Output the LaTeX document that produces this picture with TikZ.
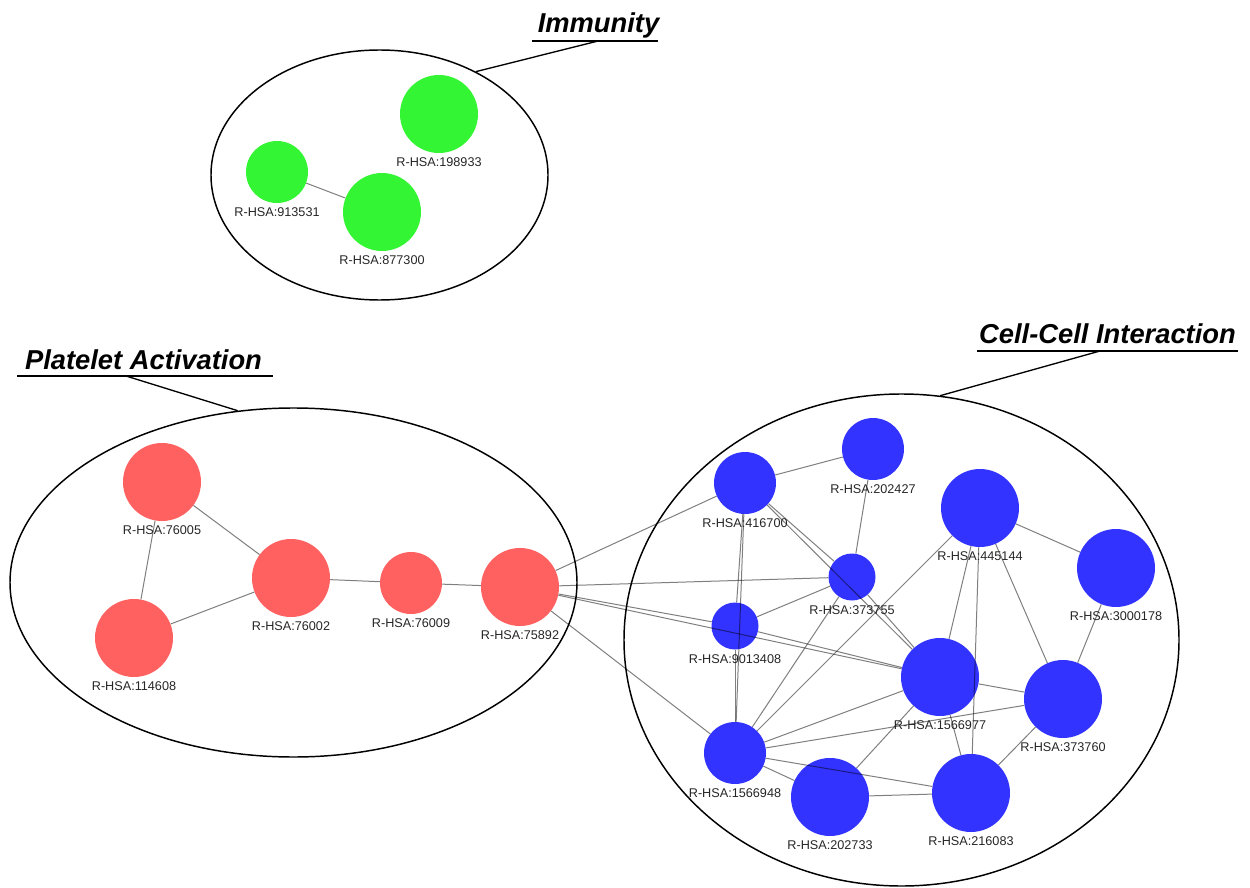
\documentclass[tikz,border=0pt]{standalone}
\usepackage{fontspec}
\setmainfont{Liberation Sans}
\usetikzlibrary{shapes.geometric,positioning}
\definecolor{immgreen}{RGB}{51,245,51}
\definecolor{platred}{RGB}{255,96,96}
\definecolor{cellblue}{RGB}{51,51,255}

\begin{document}
\begin{tikzpicture}[x=0.75pt,y=0.75pt,yscale=-1,xscale=1,
	group/.style={draw=black,line width=1.1pt,ellipse,inner sep=0pt},
	pw/.style={draw=none,circle,inner sep=0pt},
	big/.style={pw,minimum size=58.5pt},
	mid/.style={pw,minimum size=46.5pt},
	small/.style={pw,minimum size=35.25pt},
	lbl/.style={font=\fontsize{9.5}{11}\selectfont,text=black!85,inner sep=0pt},
	ttl/.style={font=\fontsize{20.5}{24}\selectfont\bfseries\itshape,inner sep=0pt,anchor=base},
	uline/.style={line width=1.5pt},
	lead/.style={line width=1pt},
	link/.style={draw=black,draw opacity=0.5,line width=0.75pt}]
	\useasboundingbox (0,0) rectangle (1250,888);

	% group outlines
	\node[group,minimum width=252.75pt,minimum height=187.5pt] (immG) at (379.5,175) {};
	\node[group,minimum width=425.25pt,minimum height=261.75pt] (platG) at (293.5,582.5) {};
	\node[group,minimum width=416.25pt,minimum height=369pt] (cellG) at (901.5,640) {};

	% titles
	\node[ttl] (immT) at (598.5,33) {Immunity};
	\coordinate (immU1) at (532,41);
	\coordinate (immU2) at (658,41);
	\coordinate (immL) at (598,41);
	\draw[uline] (immU1) -- (immU2);
	\draw[lead] (immL) -- (immG.47);

	\node[ttl] (platT) at (143.5,369) {Platelet Activation};
	\coordinate (platU1) at (17,376);
	\coordinate (platU2) at (273,376);
	\coordinate (platL) at (126,376);
	\draw[uline] (platU1) -- (platU2);
	\draw[lead] (platL) -- (platG.108);

	\node[ttl] (cellT) at (1107.5,343) {Cell-Cell Interaction};
	\coordinate (cellU1) at (977,351);
	\coordinate (cellU2) at (1238,351);
	\coordinate (cellL) at (1100,351);
	\draw[uline] (cellU1) -- (cellU2);
	\draw[lead] (cellL) -- (cellG.81.5);

	% immunity
	\node[big,fill=immgreen] (n198933) at (439,114) {};
	\node[mid,fill=immgreen] (n913531) at (277,172) {};
	\node[big,fill=immgreen] (n877300) at (382,212) {};

	% platelet activation
	\node[big,fill=platred] (n76005) at (162,482) {};
	\node[big,fill=platred] (n114608) at (134,638) {};
	\node[big,fill=platred] (n76002) at (291,578) {};
	\node[mid,fill=platred] (n76009) at (411,583) {};
	\node[big,fill=platred] (n75892) at (520,587) {};

	% cell-cell interaction
	\node[mid,fill=cellblue] (n416700) at (745,483) {};
	\node[mid,fill=cellblue] (n202427) at (873,449) {};
	\node[big,fill=cellblue] (n445144) at (980,508) {};
	\node[big,fill=cellblue] (n3000178) at (1116,568) {};
	\node[small,fill=cellblue] (n373755) at (852,577) {};
	\node[small,fill=cellblue] (n9013408) at (735,626) {};
	\node[big,fill=cellblue] (n1566977) at (940,677) {};
	\node[big,fill=cellblue] (n373760) at (1063,699) {};
	\node[mid,fill=cellblue] (n1566948) at (735,753) {};
	\node[big,fill=cellblue] (n202733) at (830,797) {};
	\node[big,fill=cellblue] (n216083) at (971,793) {};

	% links
	\draw[link] (n913531) -- (n877300);

	\draw[link] (n76005) -- (n114608);
	\draw[link] (n76005) -- (n76002);
	\draw[link] (n114608) -- (n76002);
	\draw[link] (n76002) -- (n76009);
	\draw[link] (n76009) -- (n75892);

	\draw[link] (n75892) -- (n416700);
	\draw[link] (n75892) -- (n373755);
	\draw[link] (n75892) -- (n9013408);
	\draw[link] (n75892) -- (n1566977);
	\draw[link] (n75892) -- (n1566948);

	\draw[link] (n416700) -- (n202427);
	\draw[link] (n416700) -- (n373755);
	\draw[link] (n416700) -- (n1566977);
	\draw[link] (n416700) -- (n9013408);
	\draw[link] (n416700) -- (n1566948);
	\draw[link] (n202427) -- (n373755);
	\draw[link] (n373755) -- (n9013408);
	\draw[link] (n373755) -- (n1566977);
	\draw[link] (n373755) -- (n1566948);
	\draw[link] (n9013408) -- (n1566977);
	\draw[link] (n9013408) -- (n1566948);
	\draw[link] (n445144) -- (n3000178);
	\draw[link] (n445144) -- (n1566977);
	\draw[link] (n445144) -- (n216083);
	\draw[link] (n445144) -- (n373760);
	\draw[link] (n445144) -- (n1566948);
	\draw[link] (n3000178) -- (n373760);
	\draw[link] (n1566977) -- (n373760);
	\draw[link] (n1566977) -- (n1566948);
	\draw[link] (n1566977) -- (n216083);
	\draw[link] (n1566977) -- (n202733);
	\draw[link] (n373760) -- (n1566948);
	\draw[link] (n373760) -- (n216083);
	\draw[link] (n1566948) -- (n202733);
	\draw[link] (n1566948) -- (n216083);
	\draw[link] (n202733) -- (n216083);

	% labels
	\node[lbl,below=3.4pt of n198933] (l198933) {R-HSA:198933};
	\node[lbl,below=3.4pt of n913531] (l913531) {R-HSA:913531};
	\node[lbl,below=3.4pt of n877300] (l877300) {R-HSA:877300};
	\node[lbl,below=3.4pt of n76005] (l76005) {R-HSA:76005};
	\node[lbl,below=3.4pt of n114608] (l114608) {R-HSA:114608};
	\node[lbl,below=3.4pt of n76002] (l76002) {R-HSA:76002};
	\node[lbl,below=3.4pt of n76009] (l76009) {R-HSA:76009};
	\node[lbl,below=3.4pt of n75892] (l75892) {R-HSA:75892};
	\node[lbl,below=3.4pt of n416700] (l416700) {R-HSA:416700};
	\node[lbl,below=3.4pt of n202427] (l202427) {R-HSA:202427};
	\node[lbl,below=3.4pt of n445144] (l445144) {R-HSA:445144};
	\node[lbl,below=3.4pt of n3000178] (l3000178) {R-HSA:3000178};
	\node[lbl,below=3.4pt of n373755] (l373755) {R-HSA:373755};
	\node[lbl,below=3.4pt of n9013408] (l9013408) {R-HSA:9013408};
	\node[lbl,below=3.4pt of n1566977] (l1566977) {R-HSA:1566977};
	\node[lbl,below=3.4pt of n373760] (l373760) {R-HSA:373760};
	\node[lbl,below=3.4pt of n1566948] (l1566948) {R-HSA:1566948};
	\node[lbl,below=3.4pt of n202733] (l202733) {R-HSA:202733};
	\node[lbl,below=3.4pt of n216083] (l216083) {R-HSA:216083};
\end{tikzpicture}
\end{document}
